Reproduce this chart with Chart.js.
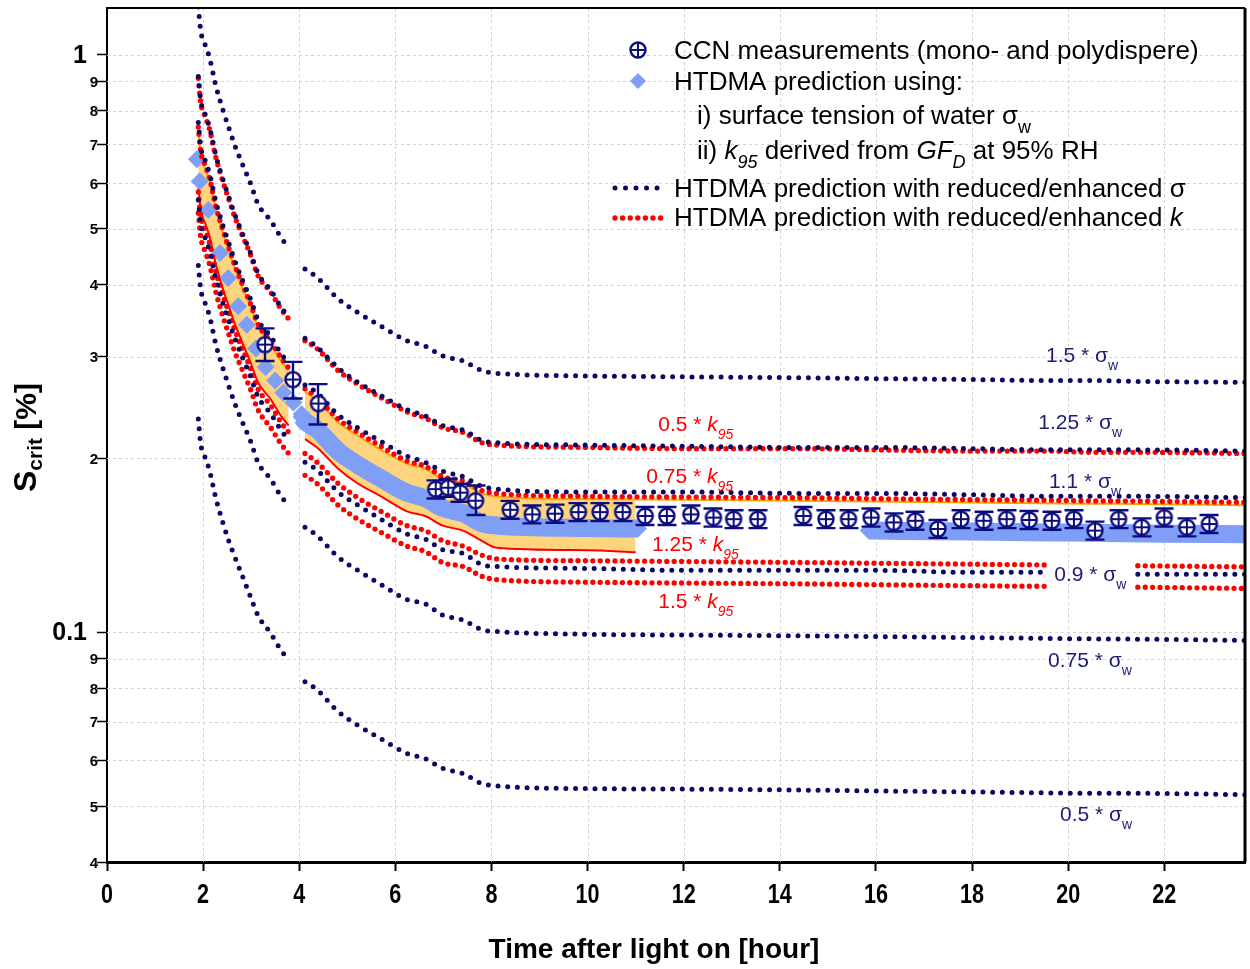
<!DOCTYPE html>
<html>
<head>
<meta charset="utf-8">
<script src="https://cdn.jsdelivr.net/npm/chart.js@4.4.0/dist/chart.umd.min.js"></script>
<style>
  html, body { margin: 0; padding: 0; background: #fff; }
  #wrap { width: 1250px; height: 969px; position: relative; }
</style>
</head>
<body>
<div id="wrap"><canvas id="scritChart"></canvas></div>
<script>
// time axis shared by the prediction curves (hours after light on), null = break in the record
const TIME = [1.90, 1.95, 2.05, 2.13, 2.27, 2.41, 2.52, 2.66, 2.82, 2.99, 3.14, 3.41, 3.62, 3.78, 3.95,
  4.12, 4.37, 4.81, 5.22, 5.70, 6.24, 6.62, 6.99, 7.41, 7.80,
  8.10, 10.0, 12.0, 14.4, 16.0, 18.0, 19.55, 20.5, 21.45, 23.7];

// HTDMA prediction with reduced/enhanced surface tension, S_crit [%]
const SIG_150 = [1.211, 1.101, 1.037, 0.991, 0.881, 0.804, 0.754, 0.697, 0.646, 0.598, 0.552, 0.516, 0.483, 0.464, null,
  0.426, 0.412, 0.378, 0.358, 0.339, 0.320, 0.313, 0.301, 0.295, 0.284,
  0.281, 0.278, 0.277, 0.276, 0.275, 0.274, 0.273, 0.273, 0.272, 0.271];
const SIG_125 = [0.918, 0.835, 0.786, 0.751, 0.668, 0.609, 0.572, 0.529, 0.490, 0.453, 0.419, 0.391, 0.366, 0.352, null,
  0.323, 0.312, 0.287, 0.271, 0.257, 0.243, 0.237, 0.228, 0.224, 0.215,
  0.213, 0.211, 0.210, 0.209, 0.209, 0.208, 0.207, 0.207, 0.207, 0.206];
const SIG_110 = [0.764, 0.694, 0.654, 0.625, 0.555, 0.507, 0.476, 0.440, 0.407, 0.377, 0.348, 0.325, 0.304, 0.293, null,
  0.268, 0.260, 0.238, 0.226, 0.214, 0.202, 0.197, 0.190, 0.186, 0.179,
  0.177, 0.175, 0.175, 0.174, 0.174, 0.173, 0.172, 0.172, 0.172, 0.171];
const SIG_090 = [0.561, 0.510, 0.480, 0.459, 0.408, 0.372, 0.349, 0.323, 0.299, 0.277, 0.256, 0.239, 0.224, 0.215, null,
  0.197, 0.191, 0.175, 0.166, 0.157, 0.148, 0.145, 0.139, 0.137, 0.131,
  0.130, 0.129, 0.128, 0.128, 0.128, 0.127, 0.127, null, 0.126, 0.126];
const SIG_075 = [0.432, 0.393, 0.370, 0.354, 0.314, 0.287, 0.269, 0.249, 0.231, 0.214, 0.197, 0.184, 0.172, 0.166, null,
  0.152, 0.147, 0.135, 0.128, 0.121, 0.114, 0.112, 0.107, 0.105, 0.101,
  0.1003, 0.0992, 0.0989, 0.0986, 0.0983, 0.0979, 0.0976, 0.0974, 0.0973, 0.0968];
const SIG_050 = [0.234, 0.212, 0.200, 0.191, 0.170, 0.155, 0.145, 0.135, 0.125, 0.115, 0.107, 0.0995, 0.0931, 0.0896, null,
  0.0821, 0.0795, 0.0729, 0.0690, 0.0654, 0.0617, 0.0604, 0.0581, 0.0569, 0.0547,
  0.0542, 0.0536, 0.0535, 0.0533, 0.0531, 0.0529, 0.0527, 0.0526, 0.0526, 0.0523];

// HTDMA prediction with reduced/enhanced kappa
const K_050 = [0.911, 0.828, 0.780, 0.745, 0.662, 0.604, 0.567, 0.524, 0.486, 0.450, 0.415, 0.388, 0.363, 0.349, null,
  0.320, 0.310, 0.284, 0.269, 0.255, 0.241, 0.235, 0.226, 0.222, 0.213,
  0.211, 0.209, 0.208, 0.208, 0.207, 0.206, 0.206, 0.205, 0.205, 0.204];
const K_075 = [0.750, 0.682, 0.642, 0.613, 0.545, 0.498, 0.467, 0.432, 0.400, 0.370, 0.342, 0.319, 0.299, 0.287, null,
  0.264, 0.255, 0.234, 0.222, 0.210, 0.198, 0.194, 0.186, 0.183, 0.176,
  0.174, 0.172, 0.1715, 0.171, 0.1704, 0.1697, 0.1693, 0.1689, 0.1687, 0.1679];
const K_125 = [0.579, 0.527, 0.496, 0.474, 0.421, 0.385, 0.361, 0.334, 0.309, 0.286, 0.264, 0.247, 0.231, 0.222, null,
  0.204, 0.197, 0.181, 0.171, 0.162, 0.153, 0.150, 0.144, 0.141, 0.136,
  0.134, 0.133, 0.1326, 0.1321, 0.1317, 0.1312, 0.1308, null, 0.1304, 0.1298];
const K_150 = [0.532, 0.484, 0.455, 0.435, 0.387, 0.353, 0.331, 0.306, 0.284, 0.263, 0.243, 0.226, 0.212, 0.204, null,
  0.187, 0.181, 0.166, 0.157, 0.149, 0.141, 0.138, 0.132, 0.130, 0.125,
  0.1234, 0.1221, 0.1217, 0.1213, 0.1209, 0.1204, 0.1201, null, 0.1197, 0.1191];

// uncertainty envelope of the HTDMA prediction (upper edge runs the whole day, lower edge to 11 h)
const ENV_HI = [0.741, 0.674, 0.634, 0.606, 0.539, 0.492, 0.462, 0.427, 0.395, 0.366, 0.338, 0.316, 0.295, 0.284, null,
  0.261, 0.252, 0.231, 0.219, 0.207, 0.196, 0.192, 0.184, 0.181, 0.174,
  0.1719, 0.1701, 0.1696, 0.1690, 0.1685, 0.1678, 0.1673, 0.1670, 0.1668, 0.1660];
const TIME_LO = [1.90, 1.95, 2.05, 2.13, 2.27, 2.41, 2.52, 2.66, 2.82, 2.99, 3.14, 3.41, 3.62, 3.78, 3.95,
  4.12, 4.37, 4.81, 5.22, 5.70, 6.24, 6.62, 6.99, 7.41, 7.80, 8.10, 10.0, 11.0];
const ENV_LO = [0.594, 0.540, 0.509, 0.486, 0.432, 0.394, 0.370, 0.342, 0.317, 0.293, 0.271, 0.253, 0.237, 0.228, null,
  0.216, 0.209, 0.192, 0.181, 0.172, 0.162, 0.159, 0.153, 0.150, 0.144, 0.1401, 0.1387, 0.1376];

// HTDMA prediction (sigma_w, k95): single points early on, dense record afterwards
const HT_T = [1.87, 1.93, 2.11, 2.35, 2.52, 2.73, 2.91, 3.10, 3.30, 3.50, 3.67, 3.88, 4.05];
const HT_S = [0.660, 0.604, 0.539, 0.454, 0.411, 0.367, 0.341, 0.310, 0.288, 0.273, 0.260, 0.250, 0.2385];
const HT_BAND_T = [4.05, 4.12, 4.37, 4.81, 5.22, 5.70, 6.24, 6.62, 6.99, 7.41, 7.80, 8.10, 10.0, 11.05, 13.0,
  15.85, 18.0, 20.0, 22.0, 23.7];
const HT_BAND_S = [0.236, 0.232, 0.2245, 0.206, 0.195, 0.1847, 0.1744, 0.1706, 0.1640, 0.1608, 0.1545, 0.1531, 0.1515, 0.1512, null,
  0.1500, 0.1494, 0.1488, 0.1482, 0.1478];

// CCN measurements with error range
const CCN_T = [3.29, 3.87, 4.40, 6.84, 7.10, 7.35, 7.67, 8.39, 8.85, 9.32, 9.81, 10.26, 10.73, 11.20, 11.65, 12.15,
  12.62, 13.04, 13.54, 14.49, 14.96, 15.43, 15.90, 16.37, 16.82, 17.29, 17.77, 18.24, 18.72, 19.19, 19.66, 20.12,
  20.56, 21.05, 21.53, 22.00, 22.47, 22.94];
const CCN_S = [0.315, 0.274, 0.249, 0.177, 0.178, 0.1745, 0.169, 0.163, 0.160, 0.1605, 0.1615, 0.1615, 0.1615, 0.159,
  0.159, 0.160, 0.158, 0.157, 0.157, 0.159, 0.157, 0.157, 0.158, 0.155, 0.156, 0.151, 0.157, 0.156, 0.157, 0.1565,
  0.156, 0.157, 0.150, 0.157, 0.152, 0.158, 0.152, 0.154];
const CCN_LO = [0.295, 0.254, 0.229, 0.1705, 0.1717, 0.1683, 0.1596, 0.1573, 0.1544, 0.1548, 0.1558, 0.1558, 0.1558,
  0.1534, 0.1534, 0.1544, 0.1524, 0.1515, 0.1515, 0.1534, 0.1515, 0.1515, 0.1524, 0.1495, 0.1505, 0.1457, 0.1515,
  0.1505, 0.1515, 0.1510, 0.1505, 0.1515, 0.1447, 0.1515, 0.1466, 0.1524, 0.1466, 0.1486];
const CCN_HI = [0.336, 0.294, 0.269, 0.1833, 0.1845, 0.1808, 0.1796, 0.1689, 0.1658, 0.1664, 0.1674, 0.1674, 0.1674,
  0.1648, 0.1648, 0.1658, 0.1638, 0.1627, 0.1627, 0.1648, 0.1627, 0.1627, 0.1638, 0.1607, 0.1617, 0.1565, 0.1627,
  0.1617, 0.1627, 0.1622, 0.1617, 0.1627, 0.1555, 0.1627, 0.1575, 0.1638, 0.1575, 0.1596];

const X_TICKS = [0, 2, 4, 6, 8, 10, 12, 14, 16, 18, 20, 22];
const Y_TICKS = [0.04, 0.05, 0.06, 0.07, 0.08, 0.09, 0.1, 0.2, 0.3, 0.4, 0.5, 0.6, 0.7, 0.8, 0.9, 1];
const Y_TICK_LABELS = ['4', '5', '6', '7', '8', '9', '0.1', '2', '3', '4', '5', '6', '7', '8', '9', '1'];

const NAVY = '#0a0a64';
const NAVY_TEXT = '#1c1c78';
const CCN_COLOR = '#0c0c80';
const RED = '#ff0000';
const BLUE = '#7f9ff6';
const ORANGE = '#ffa000';
const ORANGE_FILL = '#ffd47f';
const FONT = '"Liberation Sans", Arial, sans-serif';

const pts = (xs, ys) => xs.map((x, i) => ({ x: x, y: ys[i] }));

function dotted(label, values, color, gap, width) {
  return {
    label: label,
    data: pts(TIME, values),
    showLine: true,
    borderColor: color,
    borderWidth: width,
    borderDash: [0, gap],
    borderCapStyle: 'round',
    pointRadius: 0,
    cubicInterpolationMode: 'monotone',
    order: 1
  };
}

// circle with a plus, used for the CCN points
function makeCcnMarker(r) {
  const c = document.createElement('canvas');
  const s = 2 * r + 5;
  c.width = s; c.height = s;
  const g = c.getContext('2d');
  const m = s / 2;
  g.strokeStyle = CCN_COLOR;
  g.lineWidth = 2.4;
  g.fillStyle = '#fff';
  g.beginPath(); g.arc(m, m, r, 0, Math.PI * 2); g.fill(); g.stroke();
  g.lineWidth = 2;
  g.beginPath();
  g.moveTo(m - r, m); g.lineTo(m + r, m);
  g.moveTo(m, m - r); g.lineTo(m, m + r);
  g.stroke();
  return c;
}
const ccnMarker = makeCcnMarker(7.5);

function richText(ctx, x, y, parts, size, color, weight) {
  let cx = x;
  ctx.fillStyle = color;
  ctx.textAlign = 'left';
  ctx.textBaseline = 'alphabetic';
  parts.forEach(p => {
    const s = p.sub ? Math.round(size * 0.68) : size;
    ctx.font = (p.it ? 'italic ' : '') + (weight || 'normal') + ' ' + s + 'px ' + FONT;
    ctx.fillText(p.t, cx, y + (p.sub ? Math.round(size * 0.36) : 0));
    cx += ctx.measureText(p.t).width;
  });
  return cx - x;
}

const sigmaLabel = (n) => [{ t: n + ' * σ' }, { t: 'w', sub: true }];
const kLabel = (n) => [{ t: n + ' * ' }, { t: 'k', it: true }, { t: '95', it: true, sub: true }];

// curve labels, anchored in data coordinates (left edge, baseline)
const CURVE_LABELS = [
  { parts: sigmaLabel('1.5'), t: 19.54, s: 0.2933, color: NAVY_TEXT },
  { parts: sigmaLabel('1.25'), t: 19.38, s: 0.2246, color: NAVY_TEXT },
  { parts: sigmaLabel('1.1'), t: 19.60, s: 0.1778, color: NAVY_TEXT },
  { parts: sigmaLabel('0.9'), t: 19.71, s: 0.1227, color: NAVY_TEXT },
  { parts: sigmaLabel('0.75'), t: 19.58, s: 0.0871, color: NAVY_TEXT },
  { parts: sigmaLabel('0.5'), t: 19.83, s: 0.0471, color: NAVY_TEXT },
  { parts: kLabel('0.5'), t: 11.47, s: 0.2236, color: RED },
  { parts: kLabel('0.75'), t: 11.22, s: 0.1811, color: RED },
  { parts: kLabel('1.25'), t: 11.34, s: 0.1381, color: RED },
  { parts: kLabel('1.5'), t: 11.47, s: 0.1102, color: RED }
];

const LEGEND_ROWS = [
  { x: 674, y: 59, parts: [{ t: 'CCN measurements (mono- and polydispere)' }] },
  { x: 674, y: 90, parts: [{ t: 'HTDMA prediction using:' }] },
  { x: 697, y: 124, parts: [{ t: 'i) surface tension of water σ' }, { t: 'w', sub: true }] },
  { x: 697, y: 159, parts: [{ t: 'ii) ' }, { t: 'k', it: true }, { t: '95', it: true, sub: true }, { t: ' derived from ' },
    { t: 'GF', it: true }, { t: 'D', it: true, sub: true }, { t: ' at 95% RH' }] },
  { x: 674, y: 197, parts: [{ t: 'HTDMA prediction with reduced/enhanced σ' }] },
  { x: 674, y: 226, parts: [{ t: 'HTDMA prediction with reduced/enhanced ' }, { t: 'k', it: true }] }
];

const decor = {
  id: 'decor',
  beforeDatasetsDraw(chart) {
    const { ctx, chartArea: a, scales: { x, y } } = chart;
    ctx.save();
    ctx.strokeStyle = '#d2d2d2';
    ctx.lineWidth = 1;
    ctx.setLineDash([3, 3]);
    ctx.beginPath();
    X_TICKS.forEach(v => {
      if (v === 0) return;
      const px = Math.round(x.getPixelForValue(v)) + 0.5;
      ctx.moveTo(px, a.top); ctx.lineTo(px, a.bottom);
    });
    Y_TICKS.forEach(v => {
      if (v === 0.04) return;
      const py = Math.round(y.getPixelForValue(v)) + 0.5;
      ctx.moveTo(a.left, py); ctx.lineTo(a.right, py);
    });
    ctx.stroke();
    ctx.restore();
  },
  beforeDatasetDraw(chart, args) {
    if (chart.data.datasets[args.index].label !== 'CCN') return;
    const { ctx, scales: { x, y } } = chart;
    ctx.save();
    ctx.strokeStyle = CCN_COLOR;
    ctx.lineWidth = 2.4;
    ctx.beginPath();
    CCN_T.forEach((t, i) => {
      const px = Math.round(x.getPixelForValue(t));
      const y1 = y.getPixelForValue(CCN_HI[i]);
      const y2 = y.getPixelForValue(CCN_LO[i]);
      ctx.moveTo(px, y1); ctx.lineTo(px, y2);
      ctx.moveTo(px - 9.5, y1); ctx.lineTo(px + 9.5, y1);
      ctx.moveTo(px - 9.5, y2); ctx.lineTo(px + 9.5, y2);
    });
    ctx.stroke();
    ctx.restore();
  },
  afterDatasetsDraw(chart) {
    const { ctx, chartArea: a, scales: { x, y } } = chart;
    ctx.save();

    // frame
    ctx.strokeStyle = '#000';
    ctx.lineWidth = 2;
    ctx.beginPath();
    ctx.moveTo(a.left, a.top); ctx.lineTo(a.right, a.top);
    ctx.stroke();
    ctx.lineWidth = 3;
    ctx.beginPath();
    ctx.moveTo(a.right, a.top); ctx.lineTo(a.right, a.bottom);
    ctx.stroke();

    // curve labels
    CURVE_LABELS.forEach(l => {
      richText(ctx, x.getPixelForValue(l.t), y.getPixelForValue(l.s), l.parts, 21, l.color);
    });

    // legend
    LEGEND_ROWS.forEach(r => richText(ctx, r.x, r.y, r.parts, 26, '#000'));
    ctx.drawImage(ccnMarker, 638 - ccnMarker.width / 2, 50 - ccnMarker.height / 2);
    ctx.fillStyle = BLUE;
    ctx.beginPath();
    ctx.moveTo(638 - 8, 81); ctx.lineTo(638, 73); ctx.lineTo(638 + 8, 81); ctx.lineTo(638, 89);
    ctx.closePath(); ctx.fill();
    ctx.fillStyle = NAVY;
    for (let i = 0; i < 5; i++) {
      ctx.beginPath(); ctx.arc(615 + i * 10.5, 188, 2.5, 0, Math.PI * 2); ctx.fill();
    }
    ctx.fillStyle = RED;
    for (let i = 0; i < 7; i++) {
      ctx.beginPath(); ctx.arc(615 + i * 7.6, 218, 2.7, 0, Math.PI * 2); ctx.fill();
    }

    // y tick labels
    ctx.fillStyle = '#000';
    ctx.textAlign = 'right';
    ctx.textBaseline = 'alphabetic';
    Y_TICKS.forEach((v, i) => {
      const py = y.getPixelForValue(v);
      const major = (v === 1 || v === 0.1);
      ctx.font = 'bold ' + (major ? 25 : 15) + 'px ' + FONT;
      ctx.fillText(Y_TICK_LABELS[i], major ? 87 : 98, py + (major ? 8 : 5.5));
    });

    // x tick labels (narrow bold)
    ctx.font = 'bold 27px ' + FONT;
    ctx.textAlign = 'center';
    X_TICKS.forEach(v => {
      const px = x.getPixelForValue(v);
      ctx.save();
      ctx.translate(px, 903);
      ctx.scale(0.8, 1);
      ctx.fillText(String(v), 0, 0);
      ctx.restore();
    });

    // x axis title
    ctx.font = 'bold 28px ' + FONT;
    ctx.fillText('Time after light on [hour]', 654, 958);

    // y axis title, rotated
    ctx.save();
    ctx.translate(36, 492);
    ctx.rotate(-Math.PI / 2);
    ctx.textAlign = 'left';
    ctx.font = 'bold 32px ' + FONT;
    ctx.fillText('S', 0, 0);
    let u = ctx.measureText('S').width;
    ctx.font = 'bold 21px ' + FONT;
    ctx.fillText('crit', u, 6);
    u += ctx.measureText('crit').width;
    ctx.font = 'bold 30px ' + FONT;
    ctx.fillText(' [%]', u, 0);
    ctx.restore();

    ctx.restore();
  }
};

const datasets = [
  {
    label: 'CCN',
    data: pts(CCN_T, CCN_S),
    pointStyle: ccnMarker,
    pointRadius: 8,
    showLine: false,
    order: 0
  },
  dotted('1.5 sigma', SIG_150, NAVY, 9.7, 5),
  dotted('1.25 sigma', SIG_125, NAVY, 9.7, 5),
  dotted('1.1 sigma', SIG_110, NAVY, 9.7, 5),
  dotted('0.9 sigma', SIG_090, NAVY, 9.7, 5),
  dotted('0.75 sigma', SIG_075, NAVY, 9.7, 5),
  dotted('0.5 sigma', SIG_050, NAVY, 9.7, 5),
  dotted('0.5 k', K_050, RED, 7.4, 5.3),
  dotted('0.75 k', K_075, RED, 7.4, 5.3),
  dotted('1.25 k', K_125, RED, 7.4, 5.3),
  dotted('1.5 k', K_150, RED, 7.4, 5.3),
  {
    label: 'HTDMA points',
    data: pts(HT_T, HT_S),
    showLine: false,
    pointStyle: 'rectRot',
    pointRadius: 9,
    pointBackgroundColor: BLUE,
    pointBorderWidth: 0,
    order: 2
  },
  {
    label: 'HTDMA band',
    data: pts(HT_BAND_T, HT_BAND_S),
    showLine: true,
    borderColor: BLUE,
    borderWidth: 18,
    borderJoinStyle: 'round',
    cubicInterpolationMode: 'monotone',
    pointStyle: 'rectRot',
    pointRadius: 9,
    pointBackgroundColor: BLUE,
    pointBorderWidth: 0,
    order: 2
  },
  {
    label: 'envelope upper',
    data: pts(TIME, ENV_HI),
    showLine: true,
    borderColor: ORANGE,
    borderWidth: 2,
    pointRadius: 0,
    cubicInterpolationMode: 'monotone',
    order: 3
  },
  {
    label: 'envelope lower',
    data: pts(TIME_LO, ENV_LO),
    showLine: true,
    borderColor: RED,
    borderWidth: 2,
    pointRadius: 0,
    cubicInterpolationMode: 'monotone',
    backgroundColor: ORANGE_FILL,
    fill: { target: 13 },
    order: 4
  }
];

new Chart(document.getElementById('scritChart'), {
  type: 'scatter',
  data: { datasets: datasets },
  options: {
    responsive: true,
    maintainAspectRatio: false,
    animation: false,
    layout: { autoPadding: false, padding: { top: 8, right: 5, left: 0, bottom: 0 } },
    plugins: {
      legend: { display: false },
      tooltip: { enabled: false },
      title: { display: false }
    },
    scales: {
      x: {
        type: 'linear',
        min: 0,
        max: 23.68,
        afterBuildTicks: s => { s.ticks = X_TICKS.map(v => ({ value: v })); },
        afterFit: s => { s.height = 107; },
        ticks: { display: false },
        grid: { drawOnChartArea: false, tickLength: 9, tickWidth: 2, tickColor: '#000' },
        border: { color: '#000', width: 3 }
      },
      y: {
        type: 'logarithmic',
        min: 0.04,
        max: 1.206,
        afterBuildTicks: s => { s.ticks = Y_TICKS.map(v => ({ value: v })); },
        afterFit: s => { s.width = 107; },
        ticks: { display: false },
        grid: { drawOnChartArea: false, tickLength: 10, tickWidth: 1.5, tickColor: '#000' },
        border: { color: '#000', width: 2 }
      }
    }
  },
  plugins: [decor]
});
</script>
</body>
</html>
